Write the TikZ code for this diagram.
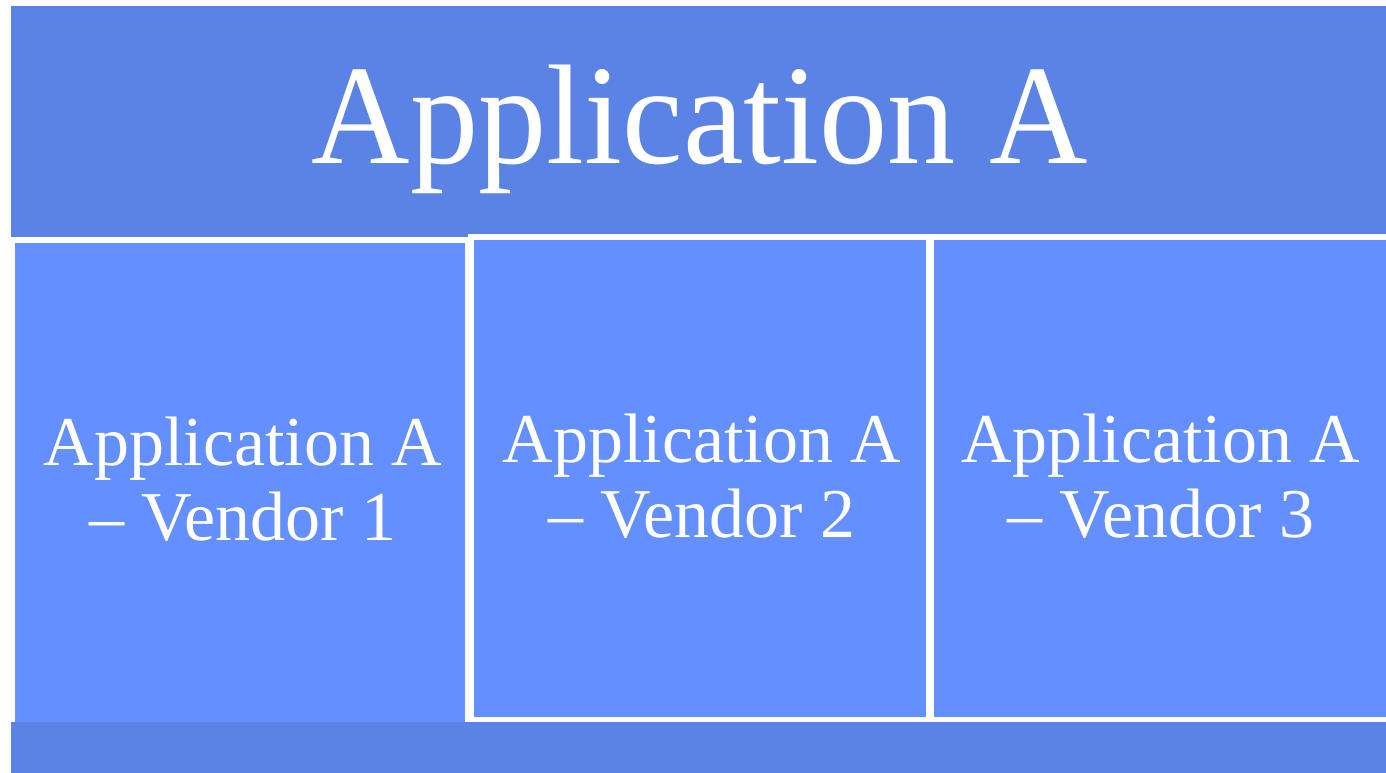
\documentclass[tikz,border=0pt]{standalone}
\usepackage{fontspec}
\setmainfont{Liberation Serif}
\definecolor{bandblue}{RGB}{90,131,229}
\definecolor{boxblue}{RGB}{100,143,255}
\begin{document}
\begin{tikzpicture}[x=1pt,y=-1pt,
  band/.style={fill=bandblue,draw=none},
  vendorbox/.style={fill=boxblue,draw=white,line width=5.5pt},
  titletext/.style={text=white,inner sep=0pt,font=\fontsize{142}{150}\selectfont,xscale=0.96},
  vendortext/.style={text=white,inner sep=0pt,align=center,font=\fontsize{70}{75}\selectfont}]
\useasboundingbox (0,0) rectangle (1386,773);
\fill[white] (0,0) rectangle (1386,773);
\path[band] (11,6) rectangle (1386,237);
\path[vendorbox] (12,240) rectangle (468,740);
\path[vendorbox] (471,237) rectangle (929,720);
\path[vendorbox] (931,237) rectangle (1392,720);
\path[band] (11,722) rectangle (1386,773);
\node[titletext,anchor=base] (title) at (700,163) {Application A};
\node[vendortext,anchor=north] (v1) at (243,417) {Application A\\– Vendor 1};
\node[vendortext,anchor=north] (v2) at (702,414) {Application A\\– Vendor 2};
\node[vendortext,anchor=north] (v3) at (1161,414) {Application A\\– Vendor 3};
\end{tikzpicture}
\end{document}
